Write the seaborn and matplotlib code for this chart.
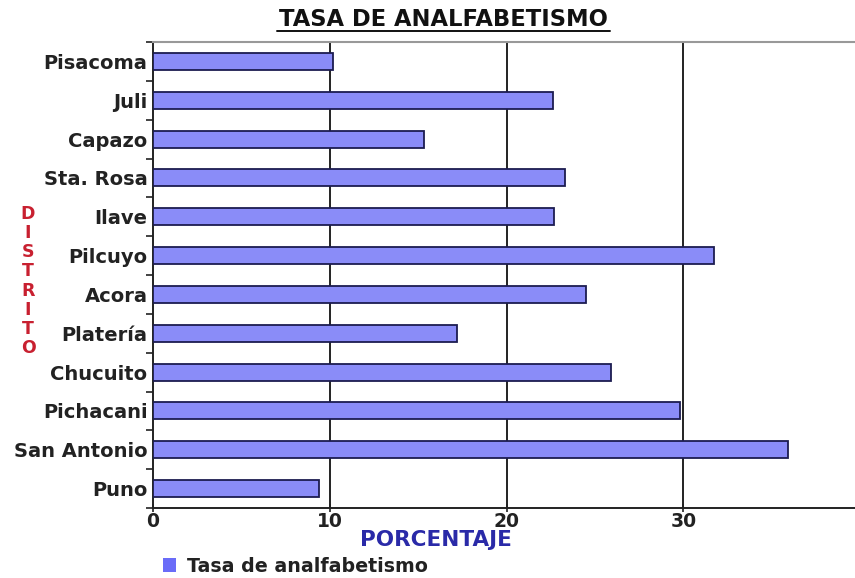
import matplotlib
matplotlib.use("Agg")
import matplotlib.pyplot as plt
import seaborn as sns
import pandas as pd
import numpy as np
from matplotlib.ticker import FixedLocator

districts = ["Pisacoma", "Juli", "Capazo", "Sta. Rosa", "Ilave", "Pilcuyo", "Acora",
             "Platería", "Chucuito", "Pichacani", "San Antonio", "Puno"]
rates = [10.2, 22.6, 15.3, 23.3, 22.7, 31.7, 24.5, 17.2, 25.9, 29.8, 35.9, 9.4]
xticks = [0, 10, 20, 30]
series_name = "Tasa de analfabetismo"

sns.set_theme(style="white")
plt.rcParams['font.family'] = ['DejaVu Sans']

df = pd.DataFrame({"Distrito": districts, "Tasa": rates})

fig = plt.figure(figsize=(8.55, 5.78), dpi=100)
ax = fig.add_axes([153/855, 1 - 508/578, (855 - 153)/855, (508 - 42)/578])

sns.barplot(data=df, x="Tasa", y="Distrito", orient="h", ax=ax,
            color="#8a8cf8", saturation=1, width=0.44,
            edgecolor="#1c1c50", linewidth=1.3, zorder=3)

ax.set_xlim(0, 39.7)
ax.set_ylim(len(districts) - 0.5, -0.5)
ax.set_xticks(xticks)
ax.set_xticklabels([str(t) for t in xticks], fontsize=13.5, fontweight="bold", color="#222222")
for t in xticks[1:]:
    ax.axvline(t, color="#222222", lw=1.4, zorder=1)

ax.tick_params(axis="y", which="major", length=0, pad=4)
ax.set_yticks(range(len(districts)))
ax.set_yticklabels(districts, fontsize=14, fontweight="bold", color="#222222")
ax.yaxis.set_minor_locator(FixedLocator(np.arange(-0.5, len(districts), 1)))
ax.tick_params(axis="y", which="minor", length=5, width=1.2, color="#222222", left=True)
ax.tick_params(axis="x", which="major", length=6, width=1.2, color="#222222", bottom=True,
               direction="inout", pad=0)

ax.set_xlabel("")
ax.set_ylabel("")
ax.spines["right"].set_visible(False)
ax.spines["top"].set_color("#999999")
ax.spines["top"].set_linewidth(1.5)
for s in ["left", "bottom"]:
    ax.spines[s].set_color("#222222")
    ax.spines[s].set_linewidth(1.4)

fig.text(443/855, 1 - 19/578, "TASA DE ANALFABETISMO", ha="center", va="center",
         fontsize=16.3, fontweight="bold", color="#111111")
fig.add_artist(plt.Line2D([277/855, 610/855], [1 - 31/578, 1 - 31/578], color="#111111", lw=1.4))

fig.text(436/855, 1 - 540/578, "PORCENTAJE", ha="center", va="center",
         fontsize=15.5, fontweight="bold", color="#2a2aa8")

fig.text(28/855, 1 - 281/578, "\n".join("DISTRITO"), ha="center", va="center",
         fontsize=12.5, fontweight="bold", color="#c82030", linespacing=1.08)

handle = plt.Rectangle((0, 0), 1, 1, facecolor="#6a6cf8", edgecolor="none")
fig.legend([handle], [series_name], loc="center left",
           bbox_to_anchor=(146/855, 1 - 566/578), frameon=False,
           prop={"size": 13.7, "weight": "bold"}, handlelength=0.7, handleheight=0.7,
           handletextpad=0.55, labelcolor="#222222")

fig.savefig("out.png", dpi=100)
